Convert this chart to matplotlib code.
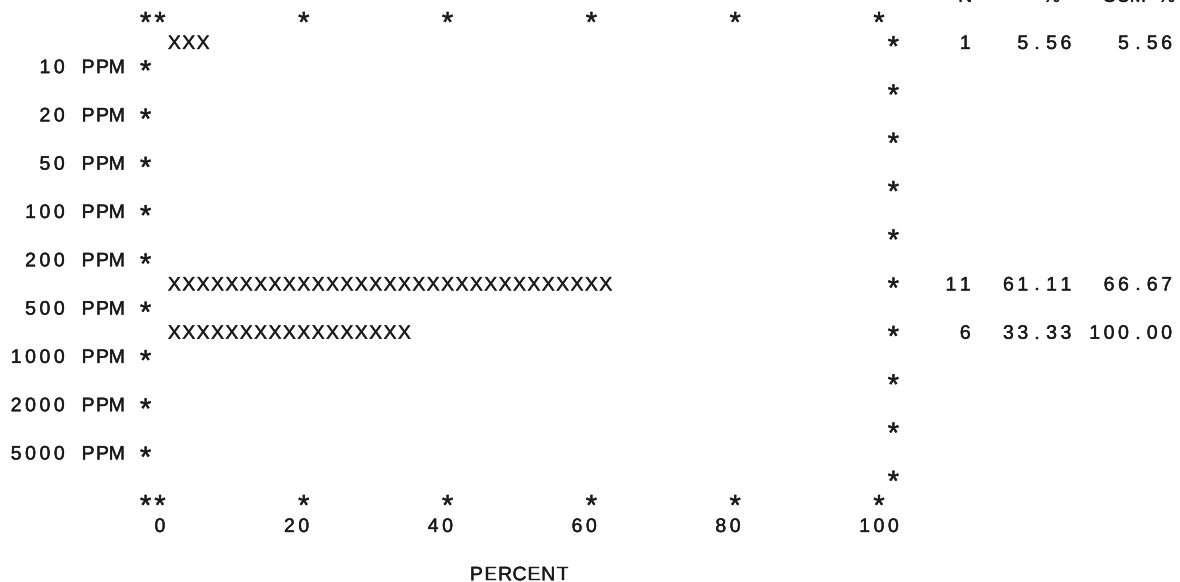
import matplotlib
matplotlib.use("Agg")
import matplotlib.pyplot as plt
import matplotlib.patheffects as pe
from matplotlib.transforms import offset_copy

# histogram rows (one per concentration band), as printed on the listing
bounds = ["10 PPM", "20 PPM", "50 PPM", "100 PPM", "200 PPM",
          "500 PPM", "1000 PPM", "2000 PPM", "5000 PPM"]
counts = [1, 0, 0, 0, 0, 11, 6, 0, 0, 0]
percents = [5.56, 0, 0, 0, 0, 61.11, 33.33, 0, 0, 0]
cum_percents = [5.56, 0, 0, 0, 0, 66.67, 100.00, 0, 0, 0]
ticks = [0, 20, 40, 60, 80, 100]
header = ["N", "%", "CUM %"]
xlabel = "PERCENT"

INK = "#1a1a1a"
FONT = ["Liberation Sans", "DejaVu Sans"]


def main():
    fig = plt.figure(figsize=(11.8, 5.82), dpi=100)
    ax = fig.add_axes([0, 0, 1, 1])
    ax.axis("off")
    # x in percent (one printer column = 2 %), y in printer lines
    ax.set_xlim(-22.25, 141.86)
    ax.set_ylim(23.354, -0.745)

    txt_tr = offset_copy(ax.transData, fig=fig, x=0, y=-6.8, units="dots")
    star_tr = offset_copy(ax.transData, fig=fig, x=0, y=-14.0, units="dots")
    bold = [pe.withStroke(linewidth=0.3, foreground=INK)]

    def put(col, line, s, size=14):
        # one character per printer column
        for i, ch in enumerate(s):
            if ch == " ":
                continue
            if ch == "*":
                ax.text(2 * (col + i), line, ch, ha="center", va="baseline",
                        fontsize=21, color=INK, family=FONT, transform=star_tr,
                        path_effects=bold)
            else:
                ax.text(2 * (col + i), line, ch, ha="center", va="baseline",
                        fontsize=size, color=INK, family=FONT, transform=txt_tr,
                        path_effects=bold)

    def put_right(end_col, line, s):
        put(end_col - len(s) + 1, line, s)

    # header of the statistics columns (cut by the top edge of the scan)
    put(56, -0.95, header[0])
    put(62, -0.95, header[1])
    put(66, -0.95, header[2])

    # top and bottom borders with tick stars
    for line in (0, 20):
        put(-1, line, "*")
        for t in ticks:
            put(t // 2, line, "*")

    # bars, right border and stats
    for i, n in enumerate(counts):
        line = 2 * i + 1
        nx = round(percents[i] / 2)
        for k in range(1, nx + 1):
            put(k, line, "X")
        put(51, line, "*")
        if n > 0:
            put_right(56, line, str(n))
            put_right(63, line, f"{percents[i]:.2f}")
            put_right(70, line, f"{cum_percents[i]:.2f}")

    # class boundaries on the left border
    for j, lab in enumerate(bounds):
        line = 2 * j + 2
        put_right(-3, line, lab)
        put(-1, line, "*")

    # tick labels and axis title
    for t in ticks:
        s = str(t)
        put(t // 2 - len(s) // 2, 21, s)
    put(25 - len(xlabel) // 2, 23, xlabel)

    fig.savefig("out.png", dpi=100, facecolor="white")


if __name__ == "__main__":
    main()
